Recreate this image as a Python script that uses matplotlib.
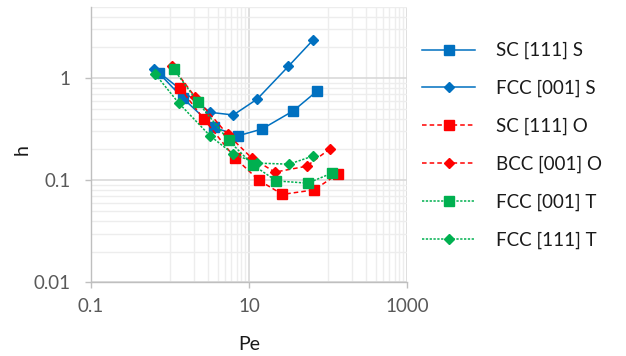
import matplotlib
matplotlib.use("Agg")
import matplotlib.pyplot as plt
from matplotlib.ticker import FixedLocator, NullFormatter

plt.rcParams['font.family'] = ['Lato', 'DejaVu Sans']

# Pe / h values
sc111_s_pe = [0.73, 1.45, 3.6, 7.26, 14.6, 36.4, 72.6]
sc111_s_h = [1.11, 0.637, 0.330, 0.272, 0.317, 0.478, 0.746]

fcc001_s_pe = [0.633, 1.29, 3.21, 6.33, 12.7, 31.4, 64.0]
fcc001_s_h = [1.23, 0.80, 0.462, 0.435, 0.623, 1.30, 2.34]

sc111_o_pe = [1.34, 2.69, 6.65, 13.4, 26.5, 66.5, 133]
sc111_o_h = [0.798, 0.395, 0.165, 0.0995, 0.0726, 0.0803, 0.115]

bcc001_o_pe = [1.045, 2.07, 5.35, 10.8, 21.3, 53.5, 106]
bcc001_o_h = [1.32, 0.656, 0.281, 0.165, 0.120, 0.137, 0.203]

fcc001_t_pe = [1.107, 2.23, 5.50, 11.2, 22.2, 55.3, 111]
fcc001_t_h = [1.23, 0.586, 0.246, 0.141, 0.0984, 0.0935, 0.117]

fcc111_t_pe = [0.652, 1.29, 3.21, 6.33, 12.5, 32.1, 64.0]
fcc111_t_h = [1.09, 0.569, 0.272, 0.180, 0.147, 0.1435, 0.172]

blue = '#0070C0'
red = '#FF0000'
green = '#00B050'
dash = (0, (3, 2))
dot = (0, (1.5, 1))

fig = plt.figure(figsize=(6.26, 3.56), dpi=100)
ax = fig.add_axes([0.1454, 0.207, 0.5048, 0.7742])

ax.plot(sc111_s_pe, sc111_s_h, color=blue, lw=1.1, marker='s', ms=7, label='SC [111] S')
ax.plot(fcc001_s_pe, fcc001_s_h, color=blue, lw=1.1, marker='D', ms=5, label='FCC [001] S')
ax.plot(sc111_o_pe, sc111_o_h, color=red, lw=1.1, ls=dash, marker='s', ms=7, label='SC [111] O')
ax.plot(bcc001_o_pe, bcc001_o_h, color=red, lw=1.1, ls=dash, marker='D', ms=5, label='BCC [001] O')
ax.plot(fcc001_t_pe, fcc001_t_h, color=green, lw=1.1, ls=dot, marker='s', ms=7, label='FCC [001] T')
ax.plot(fcc111_t_pe, fcc111_t_h, color=green, lw=1.1, ls=dot, marker='D', ms=5, label='FCC [111] T')

ax.set_xscale('log')
ax.set_yscale('log')
ax.set_xlim(0.1, 1000)
ax.set_ylim(0.01, 5)

ax.xaxis.set_major_locator(FixedLocator([0.1, 10, 1000]))
ax.xaxis.set_minor_locator(FixedLocator([k * 10**e for e in (0, 2) for k in range(1, 10)]))
ax.set_xticklabels(['0.1', '10', '1000'])
ax.yaxis.set_major_locator(FixedLocator([0.01, 0.1, 1]))
ax.yaxis.set_minor_locator(FixedLocator([k * 10**e for e in (-2, -1, 0) for k in range(2, 10) if k * 10**e <= 5]))
ax.set_yticklabels(['0.01', '0.1', '1'])
ax.xaxis.set_minor_formatter(NullFormatter())
ax.yaxis.set_minor_formatter(NullFormatter())

ax.grid(which='major', color='#D9D9D9', lw=1.2)
ax.grid(which='minor', color='#EDEDED', lw=1.0)
ax.set_axisbelow(True)

for s in ['top', 'right']:
    ax.spines[s].set_visible(False)
for s in ['left', 'bottom']:
    ax.spines[s].set_color('#BFBFBF')
    ax.spines[s].set_linewidth(1.0)

ax.tick_params(which='major', length=4.5, width=1.0, color='#BFBFBF',
               labelsize=13.5, labelcolor='#595959')
ax.tick_params(axis='y', which='major', pad=10)
ax.tick_params(axis='x', which='major', pad=7)
ax.tick_params(which='minor', length=0)

fig.text(249 / 626, 1 - 344 / 356, 'Pe', ha='center', va='center', fontsize=14, color='#1a1a1a')
fig.text(22 / 626, 1 - 150 / 356, 'h', ha='center', va='center', fontsize=14, color='#1a1a1a', rotation=90)

fig.legend(loc='upper left', bbox_to_anchor=(422 / 626, 1 - 42 / 356), frameon=False,
           fontsize=13.5, handlelength=2.85, handletextpad=1.1, labelspacing=1.1,
           borderpad=0, borderaxespad=0, labelcolor='#1a1a1a')

fig.savefig('out.png', dpi=100)
